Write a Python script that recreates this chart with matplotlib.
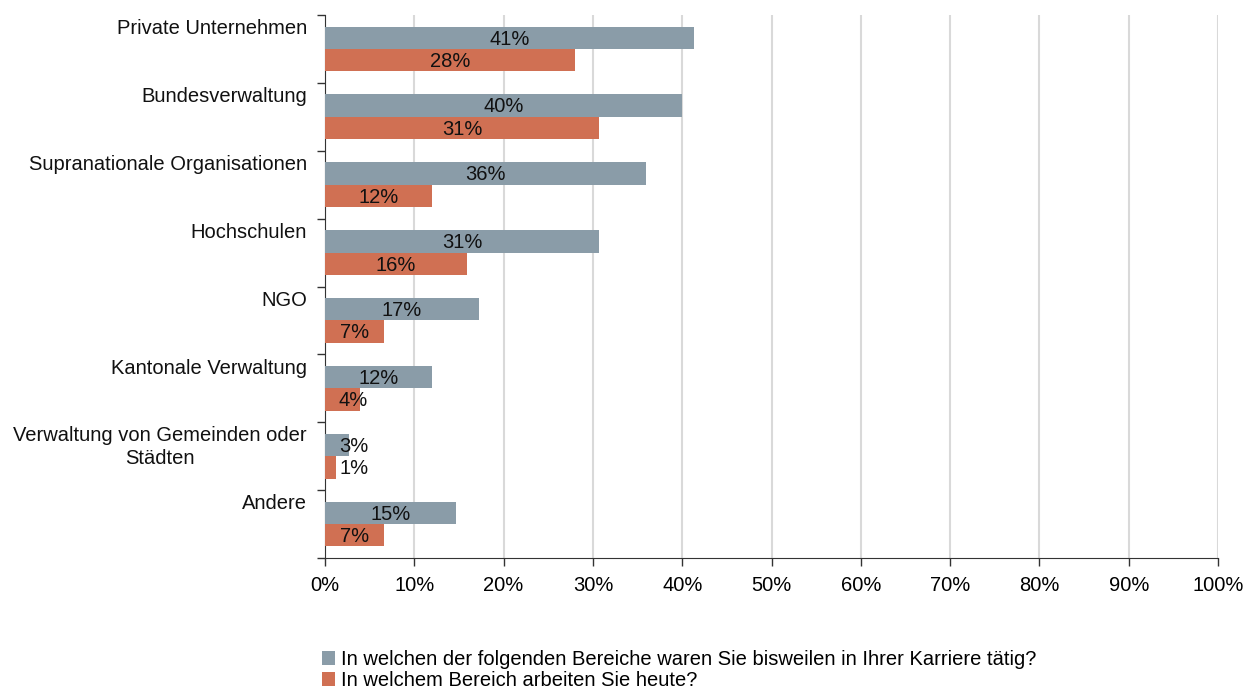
import numpy as np
import matplotlib.pyplot as plt
from matplotlib.ticker import FixedLocator

plt.rcParams['font.family'] = ['Liberation Sans', 'DejaVu Sans']

categories = [
    "Private Unternehmen",
    "Bundesverwaltung",
    "Supranationale Organisationen",
    "Hochschulen",
    "NGO",
    "Kantonale Verwaltung",
    "Verwaltung von Gemeinden oder\nStädten",
    "Andere",
]
karriere = [41.3, 40.0, 35.9, 30.7, 17.2, 12.0, 2.7, 14.7]
heute = [28.0, 30.7, 12.0, 15.9, 6.6, 3.9, 1.2, 6.6]
karriere_labels = ["41%", "40%", "36%", "31%", "17%", "12%", "3%", "15%"]
heute_labels = ["28%", "31%", "12%", "16%", "7%", "4%", "1%", "7%"]
legend_labels = [
    "In welchen der folgenden Bereiche waren Sie bisweilen in Ihrer Karriere tätig?",
    "In welchem Bereich arbeiten Sie heute?",
]

c_gray = "#8A9CA8"
c_orange = "#D07053"
fs = 14.5

fig = plt.figure(figsize=(12.45, 6.88), dpi=100)
ax = fig.add_axes([325 / 1245, 1 - 558 / 688, (1218 - 325) / 1245, (558 - 15) / 688])

n = len(categories)
y = np.arange(n)
h = 0.33
b1 = ax.barh(y - h / 2, karriere, height=h, color=c_gray, label=legend_labels[0], zorder=3)
b2 = ax.barh(y + h / 2, heute, height=h, color=c_orange, label=legend_labels[1], zorder=3)

# value labels centred in the bar, pushed right when the bar is too short
for i in range(n):
    ax.text(max(karriere[i] / 2, 3.2), y[i] - h / 2 + 0.02, karriere_labels[i], ha="center", va="center",
            fontsize=fs, color="#111111", zorder=4)
    ax.text(max(heute[i] / 2, 3.2), y[i] + h / 2 + 0.02, heute_labels[i], ha="center", va="center",
            fontsize=fs, color="#111111", zorder=4)

ax.set_xlim(0, 100)
ax.set_ylim(n - 0.5, -0.5)
ax.set_xticks(np.arange(0, 101, 10))
ax.set_xticklabels([f"{v}%" for v in range(0, 101, 10)], fontsize=fs)
ax.tick_params(axis="x", length=6, width=1, color="#333333", pad=7)

# category ticks at band boundaries, labels placed at band top
ax.set_yticks([])
ax.yaxis.set_minor_locator(FixedLocator(np.arange(-0.5, n, 1.0)))
ax.tick_params(axis="y", which="minor", length=6, width=1, color="#333333")
for i, cat in enumerate(categories):
    ax.annotate(cat, xy=(0, i - 0.5), xycoords=("axes fraction", "data"),
                xytext=(-13, -3), textcoords="offset points",
                ha="right", va="top", multialignment="center",
                fontsize=fs, color="#111111", linespacing=1.25)

ax.grid(axis="x", color="#D9D9D9", linewidth=1.5, zorder=0)
for s in ["top", "right"]:
    ax.spines[s].set_visible(False)
ax.spines["left"].set_color("#333333")
ax.spines["bottom"].set_color("#333333")

fig.legend(handles=[b1, b2], labels=legend_labels, loc="upper left",
           bbox_to_anchor=(322 / 1245, 1 - 650 / 688), frameon=False, fontsize=fs,
           handlelength=0.65, handleheight=0.65, handletextpad=0.3, labelspacing=0.1,
           borderaxespad=0, borderpad=0)

fig.savefig("out.png", dpi=100)
